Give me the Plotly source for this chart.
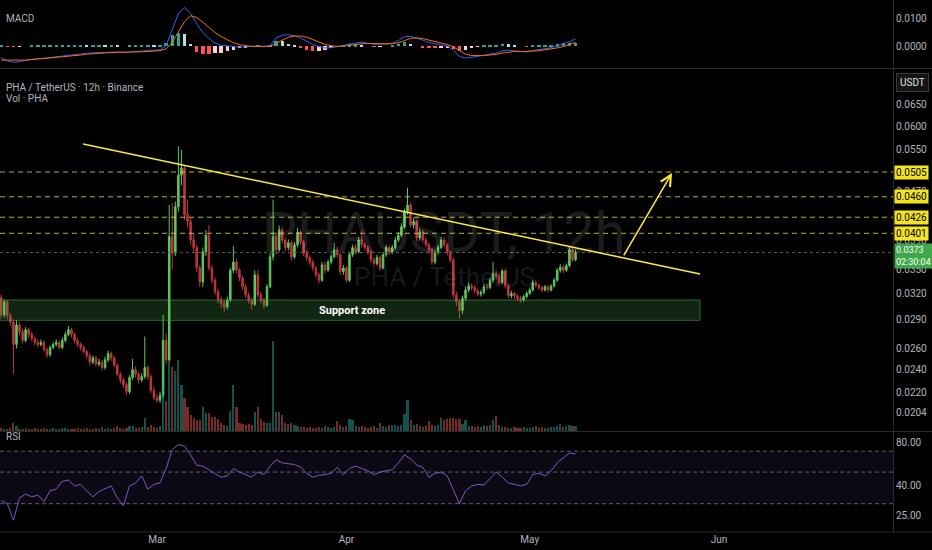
import math
import pandas as pd
import plotly.graph_objects as go

# --- 資料 (PHA / TetherUS 12h) ---
dates = pd.date_range("2025-02-03 12:00", periods=189, freq="12h")
first_open = 0.0315
closes = [
    0.0295, 0.0310, 0.0294, 0.0287, 0.0264, 0.0284, 0.0277, 0.0268, 0.0279, 0.0274,
    0.0270, 0.0266, 0.0264, 0.0266, 0.0259, 0.0254, 0.0261, 0.0264, 0.0266, 0.0261,
    0.0268, 0.0274, 0.0279, 0.0274, 0.0268, 0.0264, 0.0261, 0.0257, 0.0253, 0.0247,
    0.0251, 0.0245, 0.0247, 0.0242, 0.0249, 0.0255, 0.0251, 0.0244, 0.0236, 0.0231,
    0.0227, 0.0221, 0.0233, 0.0240, 0.0236, 0.0231, 0.0234, 0.0242, 0.0234, 0.0222,
    0.0216, 0.0214, 0.0218, 0.0268, 0.0249, 0.0396, 0.0372, 0.0443, 0.0499, 0.0513,
    0.0430, 0.0419, 0.0391, 0.0380, 0.0352, 0.0334, 0.0374, 0.0398, 0.0352, 0.0336,
    0.0322, 0.0312, 0.0308, 0.0304, 0.0312, 0.0349, 0.0360, 0.0349, 0.0339, 0.0328,
    0.0318, 0.0312, 0.0307, 0.0343, 0.0318, 0.0312, 0.0306, 0.0328, 0.0367, 0.0396,
    0.0377, 0.0406, 0.0391, 0.0380, 0.0387, 0.0367, 0.0384, 0.0403, 0.0388, 0.0372,
    0.0366, 0.0360, 0.0352, 0.0343, 0.0336, 0.0356, 0.0349, 0.0360, 0.0367, 0.0377,
    0.0370, 0.0347, 0.0352, 0.0336, 0.0370, 0.0380, 0.0374, 0.0391, 0.0384, 0.0380,
    0.0374, 0.0363, 0.0358, 0.0366, 0.0352, 0.0370, 0.0380, 0.0374, 0.0380, 0.0391,
    0.0398, 0.0411, 0.0435, 0.0446, 0.0414, 0.0419, 0.0394, 0.0403, 0.0391, 0.0384,
    0.0377, 0.0360, 0.0373, 0.0380, 0.0391, 0.0384, 0.0373, 0.0363, 0.0318, 0.0310,
    0.0300, 0.0314, 0.0324, 0.0329, 0.0327, 0.0323, 0.0319, 0.0321, 0.0328, 0.0327,
    0.0336, 0.0345, 0.0341, 0.0333, 0.0348, 0.0329, 0.0317, 0.0320, 0.0317, 0.0314,
    0.0312, 0.0316, 0.0320, 0.0324, 0.0333, 0.0330, 0.0327, 0.0324, 0.0328, 0.0324,
    0.0329, 0.0336, 0.0349, 0.0353, 0.0349, 0.0355, 0.0377, 0.0363, 0.0373,
]
highs = [
    0.0318, 0.0313, 0.0312, 0.0297, 0.0290, 0.0289, 0.0287, 0.0280, 0.0282, 0.0281,
    0.0277, 0.0272, 0.0269, 0.0269, 0.0268, 0.0261, 0.0263, 0.0266, 0.0269, 0.0268,
    0.0271, 0.0277, 0.0283, 0.0281, 0.0276, 0.0270, 0.0266, 0.0263, 0.0259, 0.0255,
    0.0253, 0.0253, 0.0250, 0.0249, 0.0252, 0.0258, 0.0257, 0.0253, 0.0246, 0.0238,
    0.0233, 0.0229, 0.0235, 0.0250, 0.0243, 0.0238, 0.0237, 0.0272, 0.0244, 0.0236,
    0.0225, 0.0219, 0.0221, 0.0295, 0.0275, 0.0446, 0.0450, 0.0452, 0.0556, 0.0549,
    0.0518, 0.0455, 0.0425, 0.0400, 0.0384, 0.0356, 0.0380, 0.0406, 0.0414, 0.0356,
    0.0340, 0.0325, 0.0316, 0.0312, 0.0316, 0.0352, 0.0382, 0.0364, 0.0352, 0.0342,
    0.0331, 0.0321, 0.0315, 0.0349, 0.0349, 0.0322, 0.0315, 0.0331, 0.0372, 0.0455,
    0.0402, 0.0413, 0.0410, 0.0395, 0.0392, 0.0390, 0.0388, 0.0409, 0.0406, 0.0391,
    0.0376, 0.0369, 0.0363, 0.0355, 0.0346, 0.0360, 0.0360, 0.0363, 0.0371, 0.0387,
    0.0381, 0.0372, 0.0356, 0.0355, 0.0374, 0.0384, 0.0385, 0.0395, 0.0406, 0.0388,
    0.0383, 0.0377, 0.0366, 0.0370, 0.0369, 0.0374, 0.0384, 0.0383, 0.0384, 0.0395,
    0.0403, 0.0416, 0.0440, 0.0476, 0.0450, 0.0425, 0.0422, 0.0408, 0.0406, 0.0394,
    0.0387, 0.0380, 0.0377, 0.0384, 0.0396, 0.0395, 0.0387, 0.0376, 0.0366, 0.0322,
    0.0313, 0.0317, 0.0328, 0.0333, 0.0332, 0.0330, 0.0326, 0.0324, 0.0331, 0.0332,
    0.0339, 0.0360, 0.0349, 0.0344, 0.0351, 0.0350, 0.0331, 0.0323, 0.0322, 0.0319,
    0.0317, 0.0318, 0.0322, 0.0327, 0.0336, 0.0336, 0.0332, 0.0329, 0.0330, 0.0330,
    0.0331, 0.0339, 0.0352, 0.0357, 0.0356, 0.0358, 0.0381, 0.0380, 0.0377,
]
lows = [
    0.0292, 0.0292, 0.0290, 0.0283, 0.0236, 0.0260, 0.0273, 0.0265, 0.0266, 0.0270,
    0.0267, 0.0263, 0.0261, 0.0262, 0.0257, 0.0251, 0.0252, 0.0259, 0.0262, 0.0259,
    0.0259, 0.0266, 0.0272, 0.0271, 0.0265, 0.0261, 0.0258, 0.0255, 0.0250, 0.0244,
    0.0245, 0.0243, 0.0243, 0.0239, 0.0240, 0.0247, 0.0248, 0.0242, 0.0234, 0.0228,
    0.0224, 0.0218, 0.0219, 0.0231, 0.0233, 0.0228, 0.0229, 0.0232, 0.0231, 0.0220,
    0.0214, 0.0212, 0.0212, 0.0216, 0.0245, 0.0247, 0.0350, 0.0368, 0.0435, 0.0480,
    0.0422, 0.0410, 0.0384, 0.0372, 0.0346, 0.0328, 0.0328, 0.0368, 0.0348, 0.0332,
    0.0318, 0.0308, 0.0303, 0.0298, 0.0301, 0.0310, 0.0345, 0.0345, 0.0335, 0.0324,
    0.0314, 0.0308, 0.0301, 0.0305, 0.0314, 0.0308, 0.0302, 0.0304, 0.0326, 0.0362,
    0.0370, 0.0374, 0.0386, 0.0375, 0.0376, 0.0362, 0.0364, 0.0381, 0.0384, 0.0368,
    0.0362, 0.0356, 0.0348, 0.0339, 0.0332, 0.0334, 0.0345, 0.0347, 0.0357, 0.0365,
    0.0366, 0.0343, 0.0343, 0.0333, 0.0334, 0.0367, 0.0370, 0.0372, 0.0380, 0.0376,
    0.0370, 0.0359, 0.0354, 0.0355, 0.0348, 0.0350, 0.0367, 0.0370, 0.0371, 0.0377,
    0.0388, 0.0395, 0.0408, 0.0430, 0.0410, 0.0408, 0.0390, 0.0390, 0.0387, 0.0380,
    0.0372, 0.0356, 0.0357, 0.0370, 0.0378, 0.0380, 0.0369, 0.0359, 0.0314, 0.0305,
    0.0291, 0.0296, 0.0311, 0.0321, 0.0323, 0.0320, 0.0316, 0.0316, 0.0319, 0.0324,
    0.0325, 0.0333, 0.0337, 0.0329, 0.0331, 0.0326, 0.0314, 0.0314, 0.0313, 0.0311,
    0.0309, 0.0310, 0.0314, 0.0318, 0.0322, 0.0327, 0.0324, 0.0321, 0.0322, 0.0321,
    0.0322, 0.0327, 0.0334, 0.0346, 0.0345, 0.0347, 0.0353, 0.0360, 0.0361,
]
# 成交量 (百萬 PHA, 大略)
volumes = [
    3, 2, 2, 3, 8, 5, 2, 2, 3, 2,
    2, 3, 2, 2, 3, 2, 2, 3, 2, 2,
    3, 3, 2, 2, 2, 3, 2, 2, 3, 2,
    2, 3, 2, 4, 2, 3, 2, 3, 5, 3,
    2, 3, 5, 5, 3, 3, 4, 13, 4, 6,
    4, 3, 5, 45, 30, 69, 64, 60, 71, 46,
    33, 24, 16, 13, 11, 11, 24, 18, 18, 14,
    14, 12, 8, 6, 5, 20, 46, 24, 8, 7,
    6, 7, 6, 19, 24, 12, 9, 8, 8, 90,
    19, 19, 16, 8, 7, 8, 6, 5, 4, 4,
    3, 4, 3, 3, 4, 3, 5, 4, 3, 4,
    10, 6, 4, 5, 12, 11, 5, 4, 5, 4,
    3, 4, 5, 3, 8, 5, 4, 6, 6, 6,
    5, 6, 17, 31, 11, 6, 7, 5, 4, 5,
    10, 6, 5, 6, 13, 11, 12, 13, 13, 12,
    12, 7, 11, 5, 5, 4, 5, 4, 6, 5,
    6, 11, 15, 6, 4, 4, 3, 3, 4, 3,
    3, 4, 3, 3, 4, 5, 3, 4, 3, 3,
    4, 4, 5, 7, 4, 5, 6, 5, 5,
]

# 指標 (每兩根K棒取一點)
rsi_vals = [
    31.5, 30, 23, 33, 35, 33.5, 34.5, 31, 37, 38,
    43, 44, 40, 41, 37, 33.5, 36.5, 38, 40, 33,
    29, 40, 42, 47, 38, 41, 42, 53, 72, 78,
    76, 66, 56, 55, 52, 49, 46, 47, 53, 50,
    48, 46, 50, 48, 55, 61, 58, 57, 56.5, 54,
    49, 46, 47.5, 48, 49, 54, 48, 53, 55, 53,
    51, 48, 50, 51, 52, 58, 66, 62, 56, 54,
    46, 49, 50, 47, 38, 30, 37, 40, 41, 40.5,
    45, 50, 46, 42, 41, 40, 41, 48, 49, 47,
    51, 58, 63, 68, 67,
]
macd_e4 = [
    -44, -55, -60, -58, -52, -48, -46, -45, -43, -40,
    -37, -34, -31, -29, -27, -25, -24, -23, -22, -22,
    -23, -22, -21, -19, -16, -16, -14, 2, 60, 120,
    143, 120, 82, 50, 28, 11, 3, 0, -3, -4,
    -3, -1, 0, -2, 2, 30, 40, 42, 38, 30,
    18, 6, -2, -7, -6, -3, 2, 8, 12, 14,
    10, 7, 7, 8, 10, 20, 34, 36, 30, 22,
    13, 8, 4, 0, -15, -38, -44, -42, -38, -34,
    -30, -26, -18, -15, -18, -20, -22, -16, -14, -10,
    -6, 0, 8, 16, 26,
]
signal_e4 = [
    -52, -52, -53, -53, -52, -50, -48, -47, -45, -43,
    -40, -38, -35, -33, -30, -28, -27, -25, -24, -23,
    -23, -23, -22, -21, -20, -18, -17, -10, 14, 52,
    90, 112, 105, 88, 68, 50, 35, 22, 12, 5,
    1, -1, -1, -1, -1, 10, 22, 33, 37, 37,
    33, 25, 15, 6, 1, -1, 0, 2, 6, 9,
    10, 9, 8, 8, 9, 12, 20, 28, 30, 28,
    22, 17, 11, 6, -3, -18, -30, -35, -36, -35,
    -33, -31, -26, -22, -20, -20, -20, -19, -17, -14,
    -11, -7, -2, 5, 14,
]
hist_e4 = [
    2, -2, -3, -2, 0, 2, 2, 2, 2, 3,
    3, 4, 4, 4, 3, 3, 3, 2, 2, 1,
    0, 1, 1, 2, 4, 2, 3, 12, 40, 50,
    45, 8, -23, -28, -28, -27, -24, -20, -15, -9,
    -4, 0, 1, -1, 3, 20, 18, 9, 1, -7,
    -15, -19, -17, -13, -7, -2, 2, 6, 6, 5,
    0, -2, -1, 0, 1, 8, 14, 8, 0, -6,
    -9, -9, -7, -6, -12, -20, -14, -7, -2, 1,
    3, 5, 8, 7, 2, 0, -2, 3, 3, 4,
    5, 7, 10, 11, 12,
]

levels = [0.0505, 0.0460, 0.0426, 0.0401]
last_price = 0.0373
countdown = "02:30:04"
price_ticks = [0.0650, 0.0600, 0.0550, 0.0470, 0.0390, 0.0350, 0.0320,
               0.0290, 0.0260, 0.0240, 0.0220, 0.0204]
macd_ticks = [0.0100, 0.0000]
rsi_ticks = [80, 40, 25]
month_ticks = ["2025-03-01", "2025-04-01", "2025-05-01", "2025-06-01"]
month_labels = ["Mar", "Apr", "May", "Jun"]

# 繪圖標記
x_start, x_end = "2025-02-03 07:17", "2025-06-29 11:00"
zone_top, zone_bottom, zone_end = 0.0312, 0.0289, "2025-05-28 21:00"
trend_x = ["2025-02-16 22:00", "2025-05-28 21:00"]
trend_y = [0.0561, 0.0344]
arrow_from = ("2025-05-16 06:00", 0.03668)
arrow_to = ("2025-05-24 07:00", 0.0503)

# --- 樣式 ---
UP, DN = "#5cc95c", "#c0353d"
TXT = "#b2b5be"
SEP = "#2a2a2a"
FONT = "Roboto"
HALF_DAY_MS = 12 * 3600 * 1000

opens = [first_open] + closes[:-1]
ind_dates = dates[::2]
macd = [v / 10000 for v in macd_e4]
signal = [v / 10000 for v in signal_e4]
hist = [v / 10000 for v in hist_e4]

vol_colors = ["rgba(38,166,154,0.5)" if c >= o else "rgba(239,83,80,0.5)" for o, c in zip(opens, closes)]
hist_colors = []
for k, h in enumerate(hist):
    prev = hist[k - 1] if k > 0 else 0
    if h >= 0:
        hist_colors.append("#26a69a" if h >= prev else "#b2dfdb")
    else:
        hist_colors.append("#ff5252" if h <= prev else "#ffcdd2")

fig = go.Figure()

# MACD 面板
fig.add_trace(go.Bar(x=ind_dates, y=hist, marker_color=hist_colors, marker_line_width=0,
                     width=HALF_DAY_MS * 1.1, xaxis="x", yaxis="y"))
fig.add_trace(go.Scatter(x=ind_dates, y=macd, mode="lines", line=dict(color="#2962ff", width=1),
                         xaxis="x", yaxis="y"))
fig.add_trace(go.Scatter(x=ind_dates, y=signal, mode="lines", line=dict(color="#ff6d00", width=1),
                         xaxis="x", yaxis="y"))

# 成交量
fig.add_trace(go.Bar(x=dates, y=volumes, marker_color=vol_colors, marker_line_width=0,
                     width=HALF_DAY_MS * 0.7, xaxis="x", yaxis="y3"))

# 支撐區
fig.add_trace(go.Scatter(x=[x_start, zone_end, zone_end, x_start, x_start],
                         y=[zone_top, zone_top, zone_bottom, zone_bottom, zone_top],
                         fill="toself", fillcolor="rgba(76,175,80,0.22)", mode="lines",
                         line=dict(color="rgba(76,175,80,0.55)", width=1), xaxis="x", yaxis="y2"))

# 水平價位
for lv in levels:
    fig.add_trace(go.Scatter(x=[x_start, x_end], y=[lv, lv], mode="lines",
                             line=dict(color="rgba(225,225,60,0.8)", width=1, dash="5px,4px"),
                             xaxis="x", yaxis="y2"))
fig.add_trace(go.Scatter(x=[x_start, x_end], y=[last_price, last_price], mode="lines",
                         line=dict(color="#5a5a5a", width=1, dash="dot"), xaxis="x", yaxis="y2"))

# K線
fig.add_trace(go.Candlestick(x=dates, open=opens, high=highs, low=lows, close=closes,
                             increasing=dict(line=dict(color=UP, width=1), fillcolor=UP),
                             decreasing=dict(line=dict(color=DN, width=1), fillcolor=DN),
                             whiskerwidth=0, xaxis="x", yaxis="y2"))

# 趨勢線
fig.add_trace(go.Scatter(x=trend_x, y=trend_y, mode="lines", line=dict(color="#ffeb3b", width=1.5),
                         xaxis="x", yaxis="y2"))

# RSI 面板
fig.add_trace(go.Scatter(x=[x_start, x_end], y=[30, 30], mode="lines", line=dict(width=0),
                         xaxis="x", yaxis="y4"))
fig.add_trace(go.Scatter(x=[x_start, x_end], y=[70, 70], mode="lines", line=dict(width=0),
                         fill="tonexty", fillcolor="rgba(126,87,194,0.1)", xaxis="x", yaxis="y4"))
for lv in [70, 50, 30]:
    fig.add_trace(go.Scatter(x=[x_start, x_end], y=[lv, lv], mode="lines",
                             line=dict(color="#5d606b", width=1, dash="4px,3px"), xaxis="x", yaxis="y4"))
fig.add_trace(go.Scatter(x=ind_dates, y=rsi_vals, mode="lines", line=dict(color="#7e57c2", width=1),
                         xaxis="x", yaxis="y4"))

# --- 文字標註 ---
H = 532.0
W = 893.0
ann = []


def paper_y(py):
    return (H - py) / H


ann.append(dict(xref="paper", yref="paper", x=0.005, y=paper_y(11), text="MACD", showarrow=False,
                xanchor="left", font=dict(color=TXT, size=10)))
ann.append(dict(xref="paper", yref="paper", x=0.005, y=paper_y(80), text="PHA / TetherUS · 12h · Binance",
                showarrow=False, xanchor="left", font=dict(color=TXT, size=10)))
ann.append(dict(xref="paper", yref="paper", x=0.005, y=paper_y(91), text="Vol · PHA", showarrow=False,
                xanchor="left", font=dict(color=TXT, size=10)))
ann.append(dict(xref="paper", yref="paper", x=0.005, y=paper_y(444), text="RSI", showarrow=False,
                xanchor="left", font=dict(color=TXT, size=10)))
# 浮水印
ann.append(dict(xref="paper", yref="paper", x=444 / W, y=paper_y(233), text="PHAUSDT, 12h", showarrow=False,
                font=dict(color="rgba(255,255,255,0.11)", size=56)))
ann.append(dict(xref="paper", yref="paper", x=444 / W, y=paper_y(277), text="PHA / TetherUS", showarrow=False,
                font=dict(color="rgba(255,255,255,0.11)", size=26)))
ann.append(dict(xref="x", yref="y2", x="2025-04-01 22:00", y=math.log10(0.0300), text="<b>Support zone</b>",
                showarrow=False, font=dict(color="#ffffff", size=11)))
ann.append(dict(xref="x", yref="y2", axref="x", ayref="y2", x=arrow_to[0], y=math.log10(arrow_to[1]),
                ax=arrow_from[0], ay=math.log10(arrow_from[1]), text="", showarrow=True,
                arrowhead=5, arrowsize=1.4, arrowwidth=1.5, arrowcolor="#ffeb3b"))
for lv in levels:
    ann.append(dict(xref="paper", yref="y2", x=894 / W, y=math.log10(lv), text=f"{lv:.4f}", showarrow=False,
                    xanchor="left", bgcolor="#f5e61c", borderpad=1, font=dict(color="#000000", size=10)))
ann.append(dict(xref="paper", yref="y2", x=894 / W, y=math.log10(last_price), yshift=-3,
                text=f"{last_price:.4f}<br>{countdown}", showarrow=False, xanchor="left", align="left",
                bgcolor="#3fa84a", borderpad=1, font=dict(color="#ffffff", size=9)))
ann.append(dict(xref="paper", yref="paper", x=896 / W, y=paper_y(73), yanchor="top", text="USDT",
                showarrow=False, xanchor="left", bgcolor="#141414", bordercolor="#3a3a3a", borderwidth=1,
                borderpad=3, font=dict(color="#e0e0e0", size=10)))

shapes = []
for py in [68.5, 431.5, 532]:
    shapes.append(dict(type="line", xref="paper", yref="paper", x0=0, x1=932 / W, y0=paper_y(py),
                       y1=paper_y(py), line=dict(color=SEP, width=1)))

axis_common = dict(side="right", anchor="x", showgrid=False, zeroline=False, showline=True,
                   linecolor=SEP, linewidth=1, ticks="", tickfont=dict(color=TXT, size=10))

fig.update_layout(
    width=932, height=550,
    margin=dict(l=0, r=39, t=0, b=18),
    paper_bgcolor="#000000", plot_bgcolor="#000000",
    font=dict(family=FONT, color=TXT),
    showlegend=False, hovermode=False, dragmode=False,
    xaxis=dict(domain=[0, 1], anchor="y4", type="date", range=[x_start, x_end],
               tickvals=month_ticks, ticktext=month_labels, showgrid=False, zeroline=False,
               showline=False, ticks="", tickfont=dict(color=TXT, size=10),
               rangeslider=dict(visible=False)),
    yaxis=dict(domain=[1 - 68 / H, 1], range=[-0.0081, 0.0170], tickvals=macd_ticks,
               ticktext=[f"{v:.4f}" for v in macd_ticks], **axis_common),
    yaxis2=dict(domain=[(H - 431) / H, (H - 69) / H], type="log",
                range=[math.log10(0.01906), math.log10(0.0744)], tickvals=price_ticks,
                ticktext=[f"{v:.4f}" for v in price_ticks], **axis_common),
    yaxis3=dict(overlaying="y2", range=[0, 362], visible=False, showgrid=False, fixedrange=True),
    yaxis4=dict(domain=[0, 100 / H], type="log", range=[math.log10(19.0), math.log10(95.5)],
                tickvals=rsi_ticks, ticktext=[f"{v:.2f}" for v in rsi_ticks], **axis_common),
    annotations=ann,
    shapes=shapes,
    bargap=0,
)

# 頁面預設的 body 邊距會把圖往右下推, 這裡歸零
fig.write_html("out.html", config={"displayModeBar": False},
               post_script="document.body.style.margin='0';document.body.style.background='#000';")
